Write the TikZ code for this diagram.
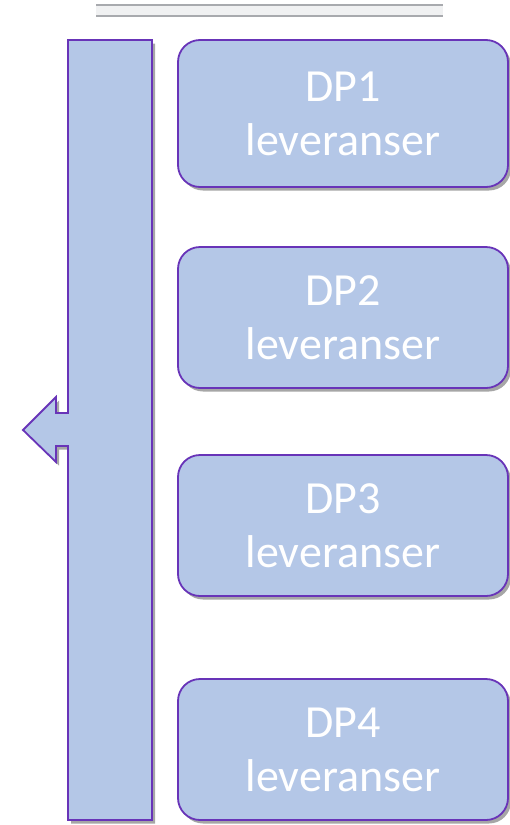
\documentclass[tikz,border=0pt]{standalone}
\usepackage{fontspec}
\setmainfont{Carlito}
\definecolor{boxblue}{RGB}{180, 199, 231}
\definecolor{edgepurple}{RGB}{104, 52, 184}
\definecolor{rulegray}{RGB}{168, 170, 174}
\definecolor{rulefill}{RGB}{240, 241, 242}
\usetikzlibrary{shapes, arrows.meta, positioning, calc, shadows}

\begin{document}
\begin{tikzpicture}[x=1pt, y=-1pt,
    dpshadow/.style={drop shadow={shadow xshift=3pt, shadow yshift=-3.5pt, opacity=0.35, fill=black}},
    dpbox/.style={draw=edgepurple, fill=boxblue, line width=1.8pt, rounded corners=22pt, minimum width=330pt, inner sep=0pt, align=center, text=white, font=\fontsize{46}{54}\selectfont, dpshadow}]
  \useasboundingbox (0, 0) rectangle (510, 825);
  % top rule
  \fill[rulefill] (96, 5) rectangle (443, 15.5);
  \draw[rulegray, line width=2pt] (96, 5) -- (443, 5);
  \draw[rulegray, line width=2pt] (96, 15.5) -- (443, 15.5);
  % bar with arrow to the left
  \draw[draw=edgepurple, fill=boxblue, line width=1.8pt, dpshadow]
    (68, 40) -- (152, 40) -- (152, 820) -- (68, 820) -- (68, 446) -- (56, 446) -- (56, 462)
    -- (23, 430) -- (56, 397) -- (56, 413) -- (68, 413) -- cycle;
  % deliveries
  \node[dpbox, minimum height=147pt] (dp1) at (343, 113.5) {DP1\\leveranser};
  \node[dpbox, minimum height=141pt] (dp2) at (343, 317.5) {DP2\\leveranser};
  \node[dpbox, minimum height=141pt] (dp3) at (343, 525.5) {DP3\\leveranser};
  \node[dpbox, minimum height=141pt] (dp4) at (343, 749.5) {DP4\\leveranser};
\end{tikzpicture}
\end{document}
